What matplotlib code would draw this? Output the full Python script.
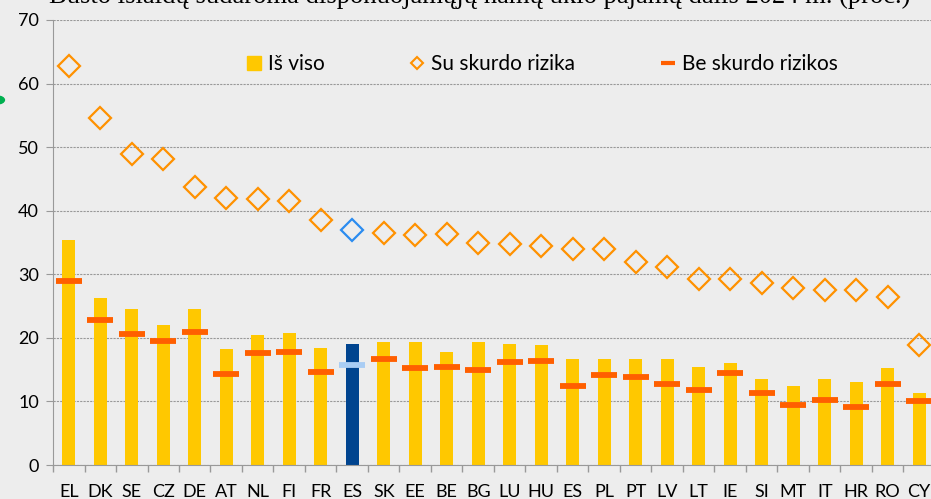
import numpy as np
import matplotlib
matplotlib.use("Agg")
from matplotlib import pyplot as plt
from matplotlib.lines import Line2D
from matplotlib.patches import Circle

# data
countries = ["EL", "DK", "SE", "CZ", "DE", "AT", "NL", "FI", "FR", "ES", "SK", "EE", "BE", "BG",
             "LU", "HU", "ES", "PL", "PT", "LV", "LT", "IE", "SI", "MT", "IT", "HR", "RO", "CY"]
is_viso = [35.4, 26.3, 24.6, 22.0, 24.5, 18.3, 20.4, 20.8, 18.4, 19.1, 19.3, 19.4, 17.8, 19.3,
           19.1, 18.8, 16.6, 16.6, 16.7, 16.6, 15.4, 16.1, 13.5, 12.4, 13.5, 13.0, 15.3, 11.3]
su_rizika = [62.8, 54.6, 48.9, 48.2, 43.8, 42.0, 41.9, 41.6, 38.6, 36.9, 36.5, 36.2, 36.3, 35.0,
             34.7, 34.4, 34.0, 33.9, 32.0, 31.1, 29.3, 29.2, 28.6, 27.8, 27.5, 27.5, 26.4, 18.9]
be_rizikos = [29.0, 22.8, 20.6, 19.5, 21.0, 14.3, 17.6, 17.8, 14.7, 15.8, 16.6, 15.2, 15.4, 14.9,
              16.2, 16.3, 12.5, 14.1, 13.8, 12.7, 11.8, 14.4, 11.3, 9.4, 10.3, 9.2, 12.7, 10.0]
highlight = 9  # the first ES

title = "Būsto išlaidų sudaroma disponuojamųjų namų ūkio pajamų dalis 2024 m. (proc.)"

BG = "#EDEDED"
YELLOW = "#FFC800"
NAVY = "#00448F"
ORANGE = "#FF9100"
BLUE = "#2B8CF0"
RED = "#FF5F00"
LIGHTBLUE = "#A9CDF4"

plt.rcParams["font.family"] = ["Lato", "DejaVu Sans"]

fig = plt.figure(figsize=(9.31, 4.99), dpi=100, facecolor=BG)
ax = fig.add_axes([53 / 931, 34 / 499, 882 / 931, 445 / 499])
ax.set_facecolor(BG)

x = np.arange(len(countries))
bar_cols = [NAVY if i == highlight else YELLOW for i in x]
dia_cols = [BLUE if i == highlight else ORANGE for i in x]
dash_cols = [LIGHTBLUE if i == highlight else RED for i in x]

ax.bar(x, is_viso, width=0.4, color=bar_cols, zorder=2)
ax.hlines(be_rizikos, x - 0.41, x + 0.41, colors=dash_cols, linewidth=4.2, zorder=3)
for i in x:
    ax.plot(x[i], su_rizika[i], marker="D", ms=10.8, mfc="none", mec=dia_cols[i],
            mew=1.6, ls="none", zorder=4)

ax.set_xlim(-0.5, len(countries) - 0.5)
ax.set_ylim(0, 70)
ax.set_yticks(np.arange(0, 71, 10))
ax.set_xticks(x)
ax.set_xticklabels(countries)
ax.set_xticks(np.arange(-0.5, len(countries), 1), minor=True)
ax.tick_params(axis="x", which="major", length=0, pad=14, labelsize=13)
ax.tick_params(axis="x", which="minor", length=5, color="#999999", width=1)
ax.tick_params(axis="y", length=5, color="#999999", pad=5, labelsize=13)
ax.grid(axis="y", color="#999999", linestyle=(0, (2, 1)), linewidth=0.8, zorder=0)
for s in ["top", "right"]:
    ax.spines[s].set_visible(False)
for s in ["left", "bottom"]:
    ax.spines[s].set_color("#999999")

handles = [
    Line2D([], [], marker="s", ms=9.5, color=YELLOW, ls="none"),
    Line2D([], [], marker="D", ms=6.5, mfc="none", mec=ORANGE, mew=1.5, ls="none"),
    Line2D([], [], marker="_", ms=10, mew=3, color=RED, ls="none"),
]
ax.legend(handles, ["Iš viso", "Su skurdo rizika", "Be skurdo rizikos"], ncol=3,
          loc="center left", bbox_to_anchor=(0.198, 0.9), frameon=False,
          prop={"family": "Lato", "size": 15},
          handlelength=0.72, handletextpad=0.3, columnspacing=4.1)

fig.text(0.053, 0.994, title, family="Liberation Serif", fontsize=19.2, va="baseline", ha="left")
fig.patches.append(Circle((-3 / 931, 1 - 100 / 499), 0.008, transform=fig.transFigure,
                          color="#00B050"))

fig.savefig("out.png", dpi=100, facecolor=BG)
